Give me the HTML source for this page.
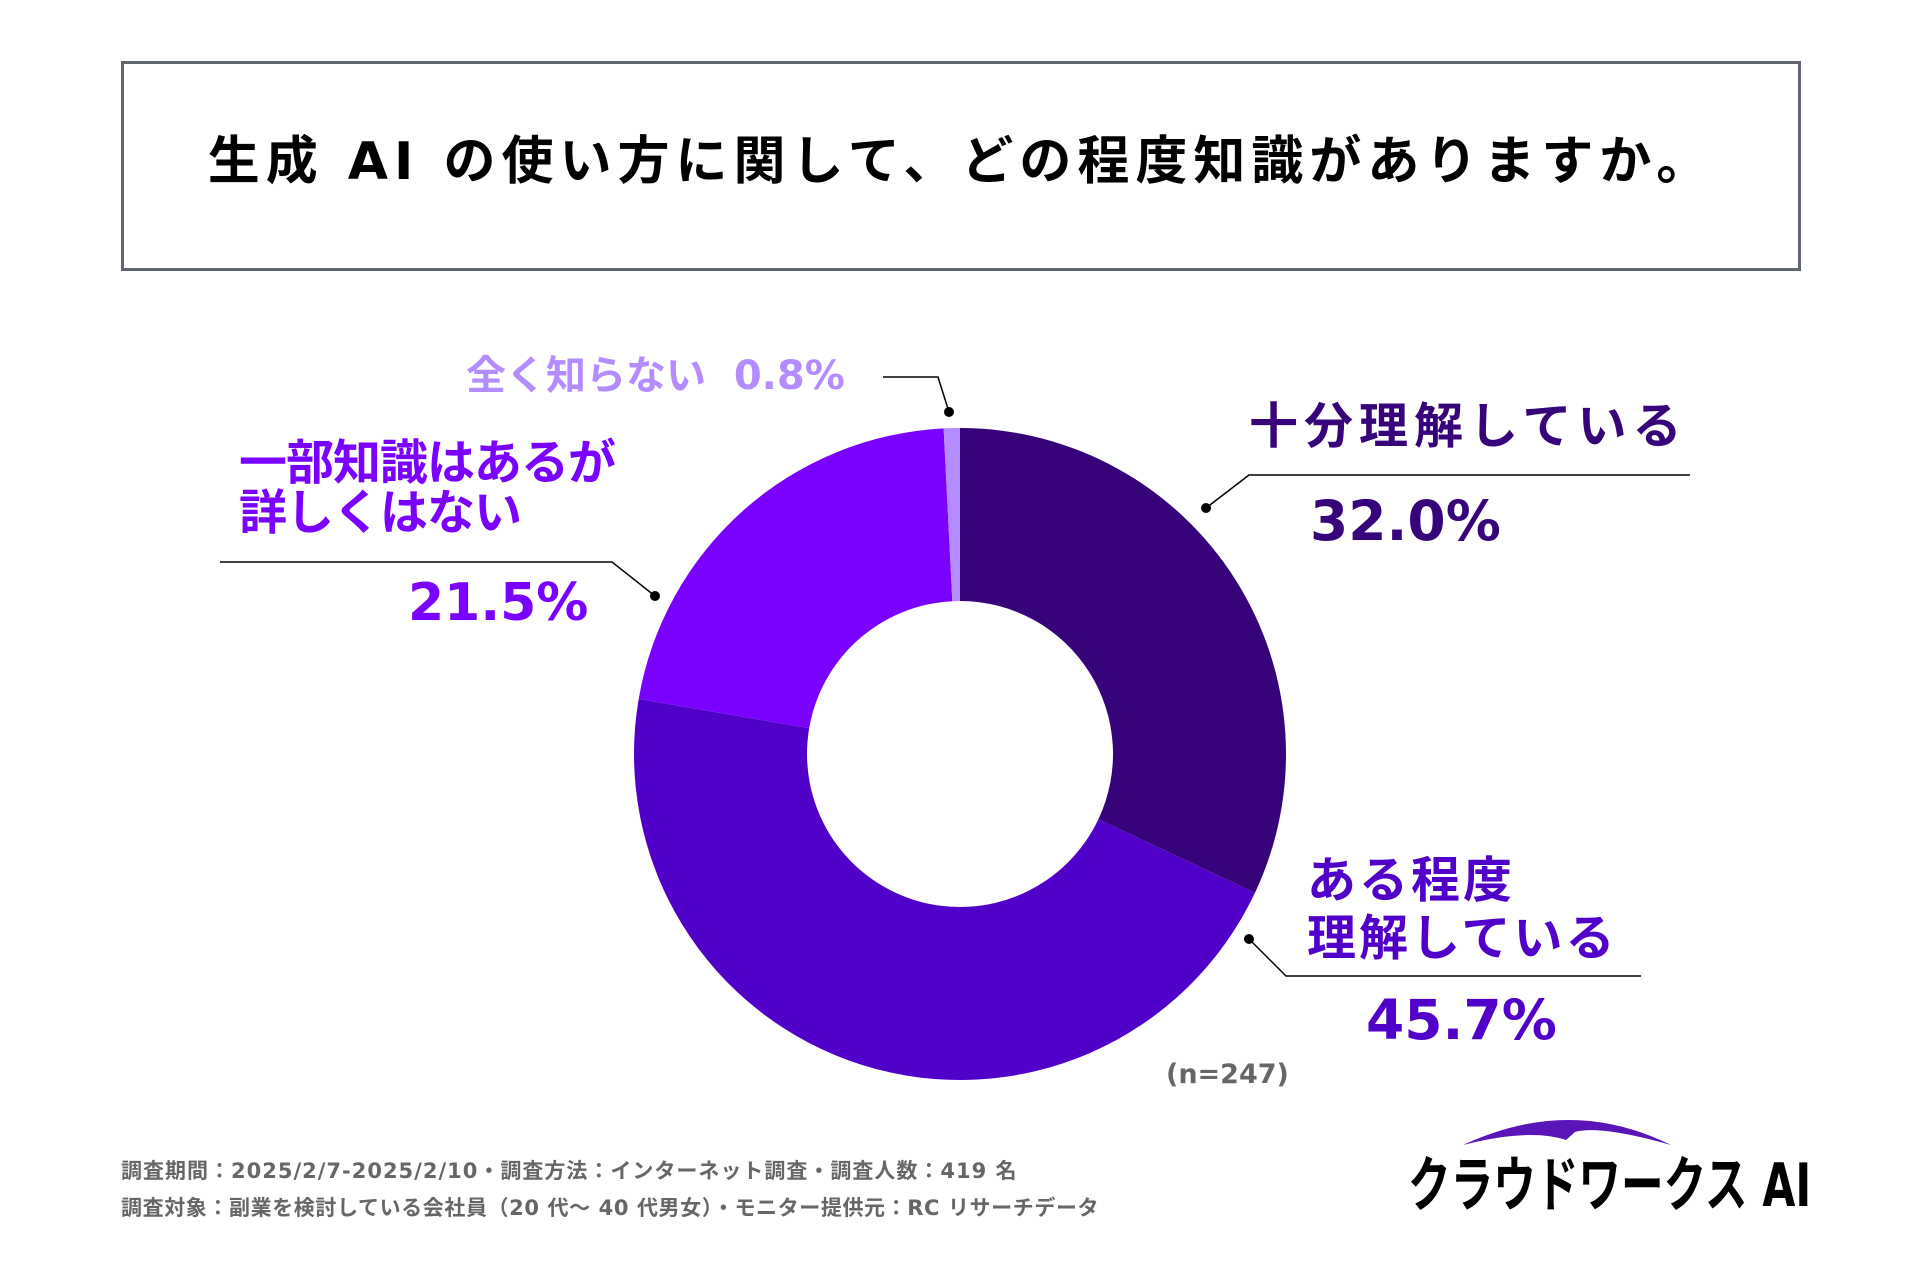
<!DOCTYPE html>
<html><head><meta charset="utf-8">
<style>
html,body{margin:0;padding:0;background:#fff;}
body{width:1920px;height:1280px;position:relative;overflow:hidden;font-family:"DejaVu Sans","Noto Sans CJK JP",sans-serif;}
.t{position:absolute;font-weight:bold;white-space:nowrap;line-height:1;}
</style></head><body>
<div style="position:absolute;left:121px;top:61px;width:1674px;height:204px;border:3px solid #5f6670;"></div>
<div class="t" style="left:121px;width:1680px;top:136px;text-align:center;font-size:52px;letter-spacing:6px;color:#000;">生成 AI の使い方に関して、どの程度知識がありますか。</div>

<svg id="chart" width="1920" height="1280" style="position:absolute;left:0;top:0;">
<g id="slices"></g>
<g stroke="#000" stroke-width="1.5" fill="none">
<polyline points="1690,475 1249,475 1206,508"/>
<polyline points="1641,976 1286,976 1249,939"/>
<polyline points="220,562 612,562 655,596"/>
<polyline points="883,377 938,377 949,412"/>
</g>
<g fill="#000">
<circle cx="1206" cy="508" r="5"/>
<circle cx="1249" cy="939" r="5"/>
<circle cx="655" cy="596" r="5"/>
<circle cx="949" cy="412" r="5"/>
</g>
<path d="M1463,1145 Q1570,1095 1671,1145 Q1600,1125 1575,1132 L1566,1140 Q1530,1128 1463,1145 Z" fill="#5a14b8"/>
</svg>

<div class="t" style="left:1249px;top:402px;font-size:49px;letter-spacing:6px;color:#36037a;">十分理解している</div>
<div class="t" style="left:1310px;top:494px;font-size:55px;color:#36037a;">32.0%</div>

<div class="t" style="left:1307px;top:852px;font-size:49px;letter-spacing:3px;color:#5000c8;line-height:58px;">ある程度<br>理解している</div>
<div class="t" style="left:1366px;top:993px;font-size:55px;color:#5000c8;">45.7%</div>

<div class="t" style="left:239px;top:438px;font-size:48px;letter-spacing:-1px;color:#7a00ff;line-height:50px;">一部知識はあるが<br>詳しくはない</div>
<div class="t" style="left:408px;top:577px;font-size:52px;color:#7a00ff;">21.5%</div>

<div class="t" style="left:466px;top:356px;font-size:40px;color:#b48cff;">全く知らない&nbsp;&nbsp;0.8%</div>

<div class="t" style="left:1166px;top:1061px;font-size:27px;color:#666;">(n=247)</div>

<div class="t" style="left:121px;top:1161px;font-size:21px;letter-spacing:1px;color:#666;">調査期間：2025/2/7-2025/2/10・調査方法：インターネット調査・調査人数：419 名</div>
<div class="t" style="left:121px;top:1198px;font-size:21px;letter-spacing:0.6px;color:#666;">調査対象：副業を検討している会社員（20 代～ 40 代男女）・モニター提供元：RC リサーチデータ</div>

<div class="t" style="left:1408px;top:1156px;font-size:60px;color:#000;transform:scaleX(0.71);transform-origin:0 0;">クラウドワークス AI</div>

<script>
const categories = ["十分理解している","ある程度理解している","一部知識はあるが詳しくはない","全く知らない"];
const values = [32.0, 45.7, 21.5, 0.8];
const colors = ["#36037a","#5000c8","#7a00ff","#b48cff"];
const cx = 960, cy = 754, R = 326, r0 = 153;
const g = document.getElementById('slices');
const total = values.reduce((a,b)=>a+b,0);
function pt(a, rad){ return [cx + rad*Math.sin(a), cy - rad*Math.cos(a)]; }
let acc = 0;
values.forEach((v,i)=>{
  const a0 = acc/total*2*Math.PI; acc += v; const a1 = acc/total*2*Math.PI;
  const large = (a1-a0) > Math.PI ? 1 : 0;
  const p0 = pt(a0,R), p1 = pt(a1,R), q1 = pt(a1,r0), q0 = pt(a0,r0);
  const d = `M${p0[0]},${p0[1]} A${R},${R} 0 ${large} 1 ${p1[0]},${p1[1]} L${q1[0]},${q1[1]} A${r0},${r0} 0 ${large} 0 ${q0[0]},${q0[1]} Z`;
  const p = document.createElementNS('http://www.w3.org/2000/svg','path');
  p.setAttribute('d', d);
  p.setAttribute('fill', colors[i]);
  
  
  g.appendChild(p);
});
</script>
</body></html>
